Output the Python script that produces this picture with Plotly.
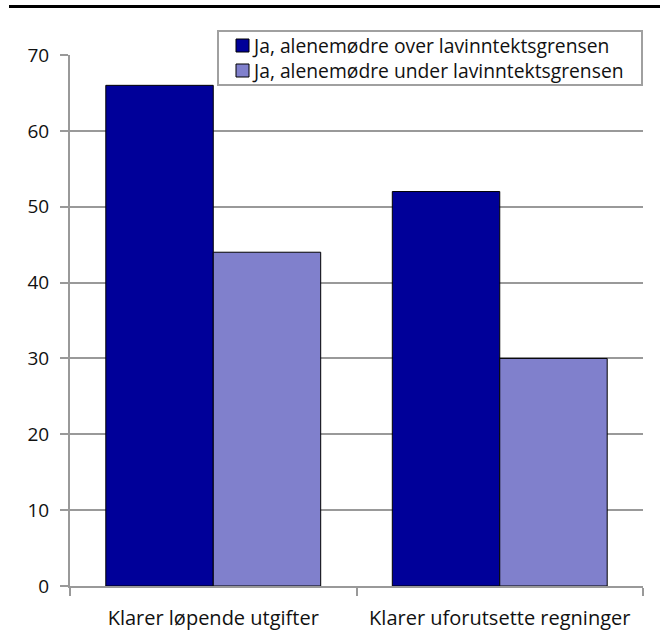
import plotly.graph_objects as go

categories = ["Klarer løpende utgifter", "Klarer uforutsette regninger"]
series_names = ["Ja, alenemødre over lavinntektsgrensen", "Ja, alenemødre under lavinntektsgrensen"]
over_values = [66, 52]
under_values = [44, 30]
colors = ["#000099", "#8080CC"]

# plot area geometry in pixels (for paper-coordinate conversion of decorations)
L, R, T, B, W, H = 70, 17, 55, 58, 660, 644
PW, PH = W - L - R, H - T - B


def px(x):
    return (x - L) / PW


def py(y):
    return (H - B - y) / PH


fig = go.Figure()
for name, vals, col in zip(series_names, [over_values, under_values], colors):
    fig.add_trace(go.Bar(x=categories, y=vals, name=name, showlegend=False,
                         marker=dict(color=col, line=dict(color="black", width=1))))

fig.update_layout(
    width=W, height=H,
    margin=dict(l=L, r=R, t=T, b=B),
    paper_bgcolor="white", plot_bgcolor="white",
    barmode="group", bargap=0.25, bargroupgap=0,
    font=dict(family="Open Sans, Noto Sans, sans-serif", size=20, color="#111"),
    showlegend=False,
)
fig.update_yaxes(range=[0, 70], dtick=10, showgrid=True, gridcolor="#999", gridwidth=2,
                 showline=True, linecolor="#999", linewidth=2,
                 ticks="outside", ticklen=8, tickcolor="#999", tickwidth=2,
                 ticklabelstandoff=7, tickfont=dict(size=19),
                 zeroline=False)
fig.update_xaxes(showline=True, linecolor="#999", linewidth=2,
                 ticks="outside", ticklen=8, tickcolor="#999", tickwidth=2,
                 tickson="boundaries", showgrid=False, ticklabelstandoff=13)

# top rule
fig.add_shape(type="line", xref="paper", yref="paper",
              x0=px(9), x1=px(660), y0=py(6.5), y1=py(6.5),
              line=dict(color="black", width=3))

# legend box
fig.add_shape(type="rect", xref="paper", yref="paper",
              x0=px(218), x1=px(642), y0=py(85), y1=py(31),
              line=dict(color="#a0a0a0", width=2), fillcolor="white", layer="above")
row_centers = [45.5, 70.5]
for name, col, yc in zip(series_names, colors, row_centers):
    fig.add_shape(type="rect", xref="paper", yref="paper",
                  x0=px(236), x1=px(249), y0=py(yc + 6.5), y1=py(yc - 6.5),
                  line=dict(color="black", width=1), fillcolor=col, layer="above")
    fig.add_annotation(xref="paper", yref="paper", x=px(251), y=py(yc),
                       xanchor="left", yanchor="middle", text=name, showarrow=False,
                       borderpad=0, font=dict(size=19.3, color="#111"))

fig.write_html("out.html", config={"displayModeBar": False},
               post_script="document.body.style.margin='0';document.body.style.overflow='hidden';")
